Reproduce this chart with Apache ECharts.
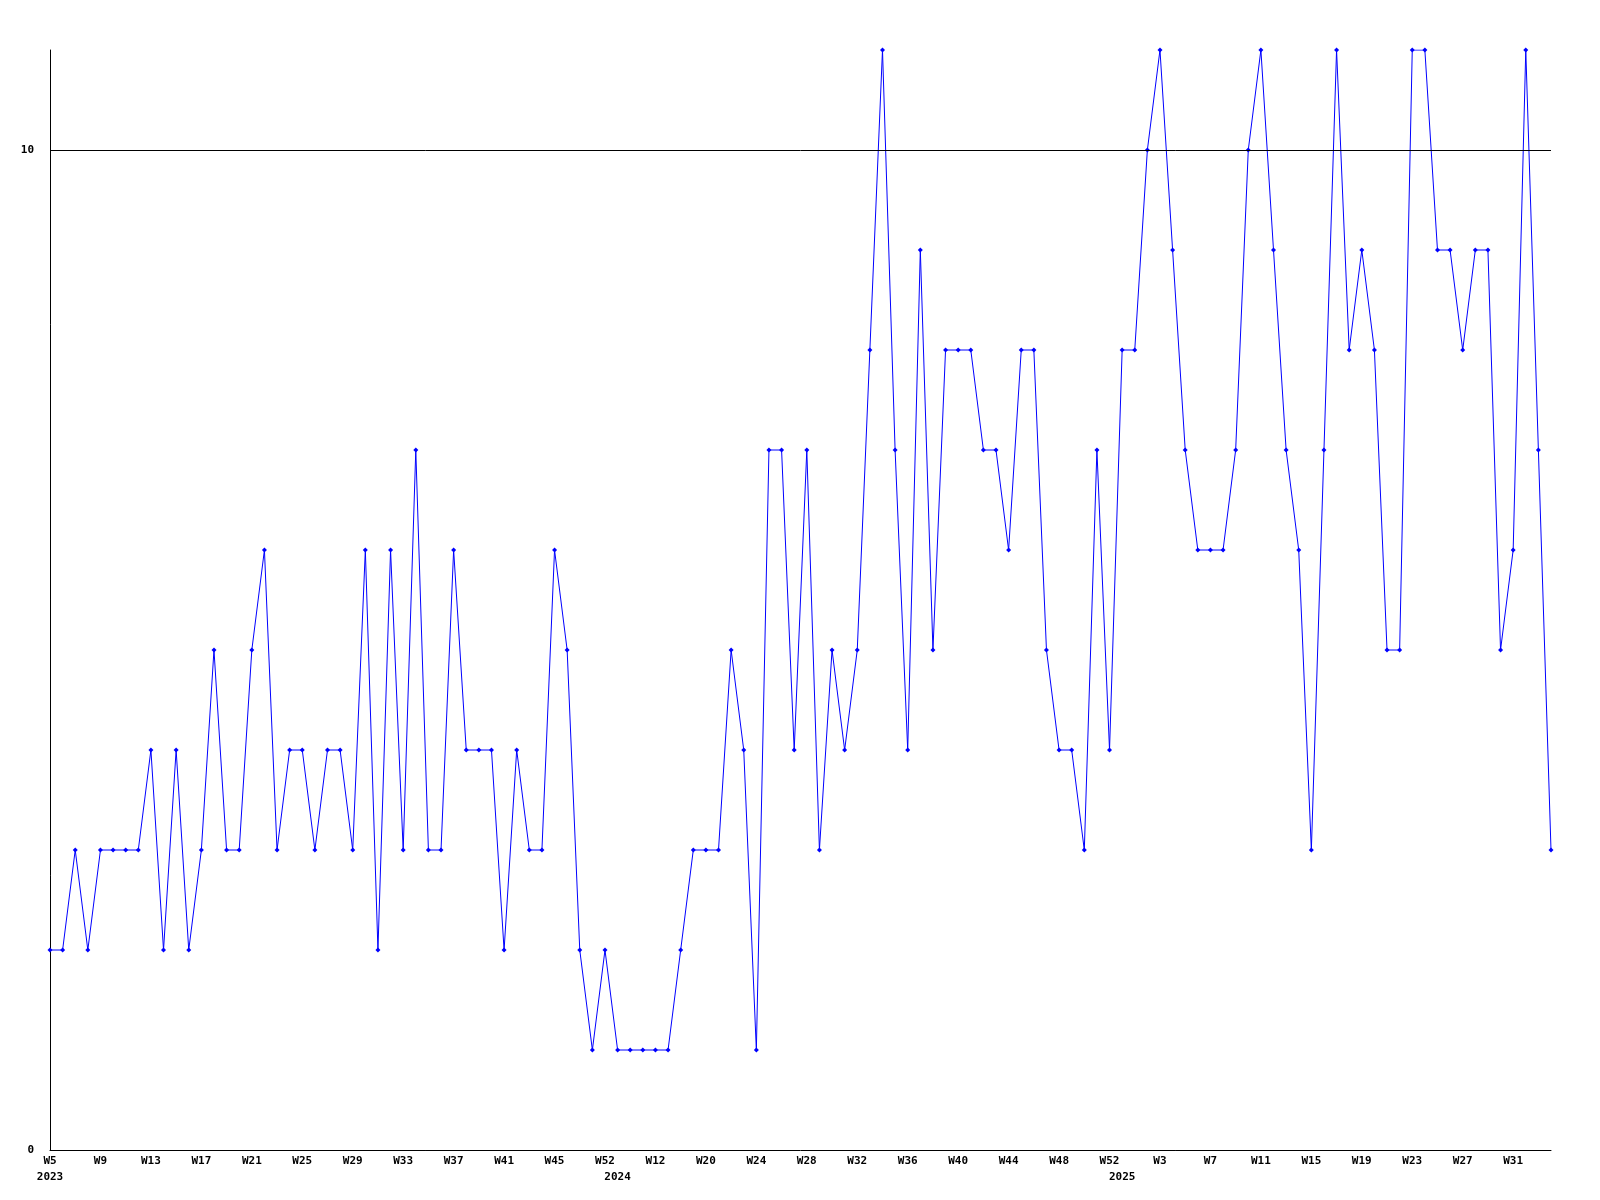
<!DOCTYPE html>
<html>
<head>
<meta charset="utf-8">
<script src="https://cdn.jsdelivr.net/npm/echarts@6/dist/echarts.min.js"></script>
<style>html,body{margin:0;padding:0;background:#fff;}#c{width:1600px;height:1200px;}</style>
</head>
<body>
<div id="c"></div>
<script>
// Category weeks (year, week number) per data point
const years = [
  2023,2023,2023,2023,2023,2023,2023,2023,2023,2023,
  2023,2023,2023,2023,2023,2023,2023,2023,2023,2023,
  2023,2023,2023,2023,2023,2023,2023,2023,2023,2023,
  2023,2023,2023,2023,2023,2023,2023,2023,2023,2023,
  2023,2023,2023,2023,2023,
  2024,2024,2024,2024,2024,2024,2024,2024,2024,2024,
  2024,2024,2024,2024,2024,2024,2024,2024,2024,2024,
  2024,2024,2024,2024,2024,2024,2024,2024,2024,2024,
  2024,2024,2024,2024,2024,2024,2024,2024,2024,2024,
  2025,2025,2025,2025,2025,2025,2025,2025,2025,2025,
  2025,2025,2025,2025,2025,2025,2025,2025,2025,2025,
  2025,2025,2025,2025,2025,2025,2025,2025,2025,2025,
  2025,2025,2025,2025,2025
];
const weeks = [
  5,6,7,8,9,10,11,12,13,14,
  15,16,17,18,19,20,21,22,23,24,
  25,26,27,28,29,30,31,32,33,34,
  35,36,37,38,39,40,41,42,43,44,
  45,46,48,50,52,
  2,5,9,12,14,16,18,20,21,22,
  23,24,25,26,27,28,29,30,31,32,
  33,34,35,36,37,38,39,40,41,42,
  43,44,45,46,47,48,49,50,51,52,
  1,1,2,3,4,5,6,7,8,9,
  10,11,12,13,14,15,16,17,18,19,
  20,21,22,23,24,25,26,27,28,29,
  30,31,32,33,34
];
const categories = years.map((y, i) => y + '-W' + weeks[i]);

const values = [
  2,2,3,2,3,3,3,3,4,2,
  4,2,3,5,3,3,5,6,3,4,
  4,3,4,4,3,6,2,6,3,7,
  3,3,6,4,4,4,2,4,3,3,
  6,5,2,1,2,1,1,1,1,1,
  2,3,3,3,5,4,1,7,7,4,
  7,3,5,4,5,8,11,7,4,9,
  5,8,8,8,7,7,6,8,8,5,
  4,4,3,7,4,8,8,10,11,9,
  7,6,6,6,7,10,11,9,7,6,
  3,7,11,8,9,8,5,5,11,11,
  9,9,8,9,9,5,6,11,7,3
];

const threshold = 10;
const yTicks = { min: 0, max: 11, interval: 10 };

const labelFont = {
  fontFamily: '"DejaVu Sans Mono", monospace',
  fontWeight: 'bold',
  fontSize: 11,
  color: '#000'
};

const chart = echarts.init(document.getElementById('c'), null, { renderer: 'canvas' });
chart.setOption({
  animation: false,
  backgroundColor: '#fff',
  grid: { left: 50, right: 49, top: 50, bottom: 50, containLabel: false },
  xAxis: [
    {
      type: 'category',
      data: categories,
      boundaryGap: false,
      position: 'bottom',
      axisLine: { show: true, lineStyle: { color: '#000', width: 1 } },
      axisTick: { show: false },
      splitLine: { show: false },
      axisLabel: Object.assign({
        margin: 6,
        interval: function (i) { return i % 4 === 0; },
        formatter: function (v) { return 'W' + v.split('-W')[1]; }
      }, labelFont)
    },
    {
      type: 'category',
      data: categories,
      boundaryGap: false,
      position: 'bottom',
      offset: 16,
      axisLine: { show: false },
      axisTick: { show: false },
      splitLine: { show: false },
      axisLabel: Object.assign({
        margin: 6,
        interval: function (i) { return i === 0 || years[i] !== years[i - 1]; },
        formatter: function (v) { return v.split('-W')[0]; }
      }, labelFont)
    }
  ],
  yAxis: {
    type: 'value',
    min: yTicks.min,
    max: yTicks.max,
    interval: yTicks.interval,
    axisLine: { show: true, lineStyle: { color: '#000', width: 1 } },
    axisTick: { show: false },
    splitLine: { show: false },
    axisLabel: Object.assign({ margin: 16, showMaxLabel: false }, labelFont)
  },
  series: [
    {
      type: 'line',
      xAxisIndex: 0,
      data: values,
      symbol: 'diamond',
      symbolSize: 5,
      showAllSymbol: true,
      lineStyle: { color: '#0000ff', width: 1 },
      itemStyle: { color: '#0000ff' },
      emphasis: { disabled: true },
      markLine: {
        silent: true,
        symbol: ['none', 'none'],
        label: { show: false },
        lineStyle: { color: '#000', width: 1, type: 'solid' },
        data: [{ yAxis: threshold }]
      }
    }
  ]
});
</script>
</body>
</html>
